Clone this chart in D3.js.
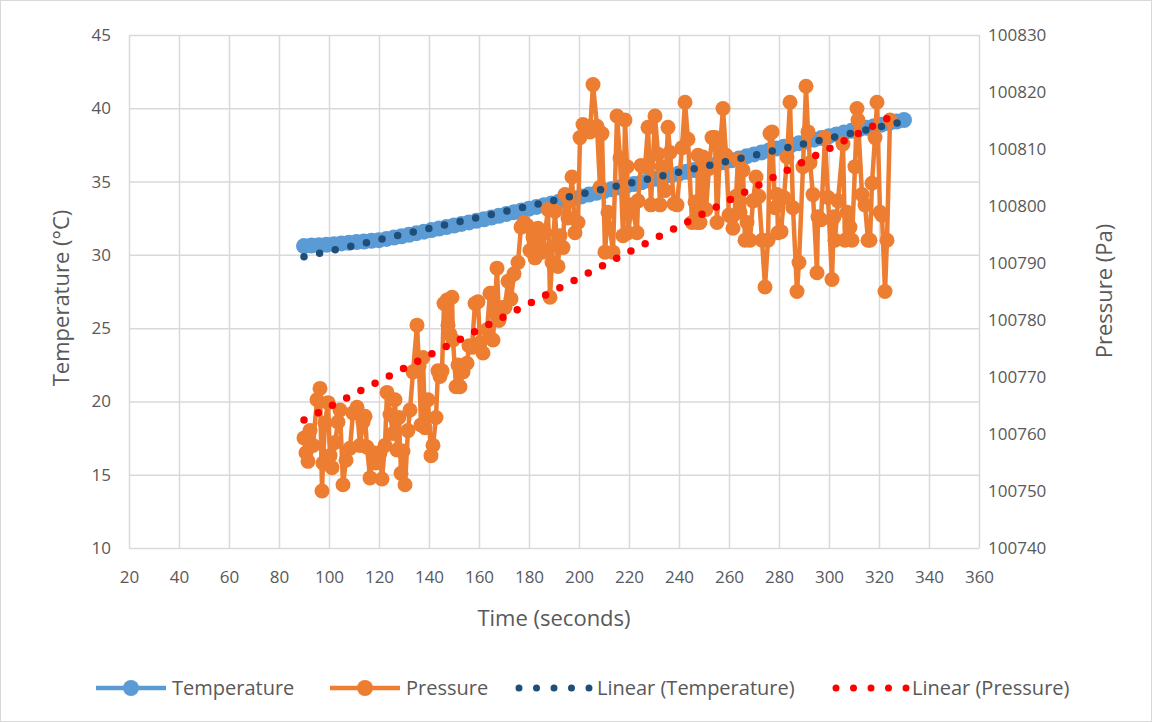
<!DOCTYPE html>
<html>
<head>
<meta charset="utf-8">
<script src="https://cdn.jsdelivr.net/npm/d3@7"></script>
<style>
  body { margin: 0; background: #fff; }
  text { font-family: "Open Sans", sans-serif; fill: #595959; }
</style>
</head>
<body>
<div id="vis"></div>
<script>
// data
var xTicks = [20, 40, 60, 80, 100, 120, 140, 160, 180, 200, 220, 240, 260, 280, 300, 320, 340, 360];
var tempTicks = [10, 15, 20, 25, 30, 35, 40, 45];
var presTicks = [100740, 100750, 100760, 100770, 100780, 100790, 100800, 100810, 100820, 100830];

var tempTime = [90, 93, 96, 99, 102, 105, 108, 111, 114, 117, 120, 123, 126, 129, 132, 135, 138, 141, 144, 147,
  150, 153, 156, 159, 162, 165, 168, 171, 174, 177, 180, 183, 186, 189, 192, 195, 198, 201, 204, 207,
  210, 213, 216, 219, 222, 225, 228, 231, 234, 237, 240, 243, 246, 249, 252, 255, 258, 261, 264, 267,
  270, 273, 276, 279, 282, 285, 288, 291, 294, 297, 300, 303, 306, 309, 312, 315, 318, 321, 324, 327, 330];
var tempValues = [30.60, 30.63, 30.66, 30.69, 30.73, 30.78, 30.82, 30.87, 30.91, 30.96, 31.00, 31.09, 31.18, 31.27, 31.37, 31.48, 31.58, 31.69, 31.79, 31.90,
  32.00, 32.11, 32.21, 32.32, 32.43, 32.55, 32.67, 32.79, 32.91, 33.03, 33.15, 33.27, 33.39, 33.51, 33.63, 33.75, 33.87, 33.99, 34.11, 34.23,
  34.35, 34.47, 34.59, 34.71, 34.83, 34.95, 35.07, 35.19, 35.31, 35.43, 35.55, 35.67, 35.79, 35.91, 36.04, 36.18, 36.31, 36.45, 36.58, 36.72,
  36.85, 36.99, 37.12, 37.26, 37.38, 37.50, 37.62, 37.74, 37.86, 37.98, 38.10, 38.22, 38.34, 38.46, 38.57, 38.67, 38.78, 38.88, 38.99, 39.10, 39.20];

var presTime = [90.0, 90.8, 91.6, 92.4, 93.6, 95.2, 96.4, 97.2, 97.6, 98.4,
  99.6, 100.4, 101.2, 102.4, 103.6, 104.4, 105.6, 106.8, 108.4, 109.6,
  111.2, 112.4, 113.6, 114.4, 115.2, 116.4, 117.6, 118.8, 120.4, 121.2,
  122.4, 123.2, 124.4, 125.6, 126.4, 127.2, 128.0, 128.8, 129.6, 130.4,
  131.6, 132.4, 133.6, 135.2, 136.0, 136.8, 137.6, 138.4, 139.6, 140.8,
  141.6, 142.8, 143.6, 144.4, 145.2, 146.0, 147.2, 147.6, 148.4, 149.2,
  149.6, 150.8, 151.6, 152.4, 153.6, 155.2, 156.0, 157.2, 158.4, 159.6,
  160.4, 161.6, 163.2, 164.4, 165.2, 165.6, 167.2, 168.0, 169.2, 170.4,
  171.6, 172.8, 174.0, 175.6, 176.8, 178.0, 179.2, 180.4, 181.6, 182.4,
  183.6, 184.4, 185.2, 186.4, 187.6, 188.4, 189.2, 190.4, 191.6, 192.4,
  193.6, 194.4, 195.6, 197.2, 198.4, 199.6, 200.4, 201.6, 202.8, 204.4,
  205.6, 207.2, 208.4, 209.2, 210.4, 211.6, 213.6, 215.2, 216.4, 217.6,
  218.4, 219.2, 219.6, 221.2, 223.2, 223.6, 224.8, 226.4, 227.6, 228.8,
  230.4, 231.6, 232.4, 233.2, 234.4, 235.6, 236.4, 238.0, 239.2, 241.2,
  242.4, 243.6, 245.2, 246.4, 247.2, 247.6, 248.4, 249.6, 250.8, 252.0,
  253.2, 254.4, 255.2, 256.4, 257.6, 258.8, 260.0, 261.2, 261.6, 262.8,
  263.6, 264.4, 265.6, 266.4, 267.2, 268.4, 269.6, 270.8, 272.0, 273.2,
  274.4, 275.6, 276.4, 277.2, 278.4, 279.2, 279.6, 280.8, 282.0, 283.2,
  284.4, 285.6, 287.2, 288.0, 289.6, 290.8, 291.6, 292.4, 293.6, 295.2,
  295.6, 296.8, 298.4, 299.6, 301.2, 302.0, 302.4, 303.6, 305.6, 306.4,
  307.2, 308.4, 309.2, 310.4, 311.2, 311.6, 313.2, 314.4, 315.6, 316.4,
  317.2, 318.4, 319.2, 320.4, 321.2, 322.4, 323.2, 324.4];
var presValues = [100759.3, 100756.7, 100755.2, 100760.6, 100758.0, 100766.0, 100768.0, 100750.0, 100754.9, 100761.9,
  100765.5, 100756.2, 100754.1, 100758.5, 100762.1, 100764.2, 100751.1, 100755.4, 100757.5, 100763.7,
  100764.7, 100758.0, 100762.1, 100763.1, 100757.7, 100752.3, 100756.7, 100754.9, 100756.7, 100752.1,
  100758.0, 100767.3, 100763.4, 100760.1, 100766.0, 100757.2, 100762.9, 100753.1, 100757.0, 100751.1,
  100760.6, 100764.2, 100770.9, 100779.1, 100771.9, 100761.6, 100773.4, 100761.1, 100766.0, 100756.2,
  100758.0, 100762.9, 100771.1, 100770.1, 100771.1, 100782.9, 100783.5, 100779.1, 100777.5, 100784.0,
  100776.5, 100768.3, 100772.1, 100768.3, 100770.9, 100772.4, 100775.5, 100775.2, 100782.9, 100783.2,
  100776.0, 100774.2, 100778.3, 100784.7, 100784.7, 100776.5, 100789.1, 100779.9, 100782.2, 100782.2,
  100786.8, 100783.7, 100788.1, 100790.1, 100796.3, 100797.1, 100796.6, 100792.2, 100794.5, 100790.9,
  100796.1, 100793.0, 100791.9, 100795.3, 100799.4, 100784.0, 100790.1, 100799.1, 100789.4, 100794.8,
  100792.7, 100802.0, 100797.9, 100805.1, 100795.3, 100797.1, 100812.0, 100814.3, 100814.0, 100813.0,
  100821.3, 100814.0, 100803.3, 100812.7, 100791.9, 100798.9, 100791.9, 100815.8, 100808.4, 100794.8,
  100815.1, 100806.9, 100795.3, 100800.2, 100795.3, 100800.9, 100807.1, 100806.9, 100813.8, 100800.2,
  100815.8, 100809.1, 100800.2, 100806.9, 100802.7, 100813.8, 100809.4, 100800.4, 100800.2, 100810.2,
  100818.2, 100811.7, 100797.1, 100800.7, 100797.1, 100808.9, 100797.1, 100808.6, 100799.4, 100806.6,
  100812.0, 100812.0, 100797.1, 100810.4, 100817.1, 100808.9, 100798.4, 100798.1, 100796.1, 100801.7,
  100808.1, 100798.9, 100806.3, 100794.0, 100797.1, 100794.0, 100800.9, 100805.1, 100801.7, 100794.0,
  100785.8, 100794.0, 100812.7, 100813.0, 100799.7, 100802.0, 100795.3, 100795.5, 100801.5, 100808.6,
  100818.2, 100799.7, 100785.0, 100790.1, 100806.9, 100821.0, 100813.0, 100807.6, 100802.0, 100788.3,
  100798.1, 100797.6, 100812.0, 100801.5, 100787.1, 100798.1, 100794.0, 100800.9, 100810.9, 100794.0,
  100798.9, 100796.3, 100794.0, 100806.9, 100817.1, 100815.1, 100802.0, 100800.2, 100794.0, 100794.0,
  100804.0, 100812.0, 100818.2, 100798.9, 100798.4, 100785.0, 100794.0, 100815.1];

var legendNames = ["Temperature", "Pressure", "Linear (Temperature)", "Linear (Pressure)"];

var width = 1152;
var height = 722;
var plotLeft = 129, plotRight = 979, plotTop = 35, plotBottom = 548;

var tempColor = "#5b9bd5";
var presColor = "#ed7d31";
var tempTrendColor = "#1f4e79";
var presTrendColor = "#ff0000";

var svg = d3.select("#vis")
    .append("svg")
    .attr("width", width)
    .attr("height", height);

svg.append("rect")
    .attr("x", 0.5).attr("y", 0.5)
    .attr("width", width - 1).attr("height", height - 1)
    .attr("fill", "#fff")
    .attr("stroke", "#d9d9d9");

var x = d3.scaleLinear().domain([20, 360]).range([plotLeft, plotRight]);
var yT = d3.scaleLinear().domain([10, 45]).range([plotBottom, plotTop]);
var yP = d3.scaleLinear().domain([100740, 100830]).range([plotBottom, plotTop]);

// gridlines
svg.append("g")
    .attr("class", "grid")
    .attr("transform", `translate(0, ${plotBottom})`)
    .call(d3.axisBottom(x).tickValues(xTicks).tickSize(-(plotBottom - plotTop)).tickFormat(""));
svg.append("g")
    .attr("class", "grid")
    .attr("transform", `translate(${plotLeft}, 0)`)
    .call(d3.axisLeft(yT).tickValues(tempTicks).tickSize(-(plotRight - plotLeft)).tickFormat(""));
svg.selectAll(".grid .domain").remove();
svg.selectAll(".grid .tick line").attr("stroke", "#d9d9d9").attr("stroke-width", 1.5);

// tick labels
var xAxis = svg.append("g")
    .attr("transform", `translate(0, ${plotBottom})`)
    .call(d3.axisBottom(x).tickValues(xTicks).tickSize(0).tickPadding(23));
var yAxisL = svg.append("g")
    .attr("transform", `translate(${plotLeft}, 0)`)
    .call(d3.axisLeft(yT).tickValues(tempTicks).tickSize(0).tickPadding(18));
var yAxisR = svg.append("g")
    .attr("transform", `translate(${plotRight}, 0)`)
    .call(d3.axisRight(yP).tickValues(presTicks).tickSize(0).tickPadding(9).tickFormat(d3.format("d")));
[xAxis, yAxisL, yAxisR].forEach(function(g) {
  g.select(".domain").remove();
  g.selectAll("text")
    .style("font-size", "17px")
    .style("font-family", "'Open Sans', sans-serif")
    .attr("fill", "#595959");
});

// axis titles
svg.append("text")
    .attr("x", (plotLeft + plotRight) / 2)
    .attr("y", 626)
    .attr("text-anchor", "middle")
    .style("font-size", "22px")
    .text("Time (seconds)");

svg.append("text")
    .attr("transform", "translate(69, 298) rotate(-90)")
    .attr("text-anchor", "middle")
    .style("font-size", "22px")
    .text("Temperature (°C)");

svg.append("text")
    .attr("transform", "translate(1112, 291) rotate(-90)")
    .attr("text-anchor", "middle")
    .style("font-size", "22px")
    .text("Pressure (Pa)");

// series
var tempData = tempTime.map(function(t, i) { return [t, tempValues[i]]; });
var presData = presTime.map(function(t, i) { return [t, presValues[i]]; });

var tempLine = d3.line().x(d => x(d[0])).y(d => yT(d[1]));
var presLine = d3.line().x(d => x(d[0])).y(d => yP(d[1]));

svg.append("path")
    .datum(tempData)
    .attr("d", tempLine)
    .attr("fill", "none")
    .attr("stroke", tempColor)
    .attr("stroke-width", 4.5);
svg.append("g").selectAll("circle")
    .data(tempData)
    .join("circle")
    .attr("cx", d => x(d[0]))
    .attr("cy", d => yT(d[1]))
    .attr("r", 8)
    .attr("fill", tempColor);

svg.append("path")
    .datum(presData)
    .attr("d", presLine)
    .attr("fill", "none")
    .attr("stroke", presColor)
    .attr("stroke-width", 4.5)
    .attr("stroke-linejoin", "round");
svg.append("g").selectAll("circle")
    .data(presData)
    .join("circle")
    .attr("cx", d => x(d[0]))
    .attr("cy", d => yP(d[1]))
    .attr("r", 7.5)
    .attr("fill", presColor);

// linear trendlines (least squares)
function linFit(xs, ys) {
  var mx = d3.mean(xs), my = d3.mean(ys);
  var sxy = d3.sum(xs, (v, i) => (v - mx) * (ys[i] - my));
  var sxx = d3.sum(xs, v => (v - mx) * (v - mx));
  var b = sxy / sxx;
  return { a: my - b * mx, b: b };
}

function drawTrend(xs, ys, yScale, color) {
  var fit = linFit(xs, ys);
  var ends = d3.extent(xs);
  svg.append("line")
      .attr("x1", x(ends[0]))
      .attr("y1", yScale(fit.a + fit.b * ends[0]))
      .attr("x2", x(ends[1]))
      .attr("y2", yScale(fit.a + fit.b * ends[1]))
      .attr("stroke", color)
      .attr("stroke-width", 7.5)
      .attr("stroke-linecap", "round")
      .attr("stroke-dasharray", "0 16");
}

drawTrend(tempTime, tempValues, yT, tempTrendColor);
drawTrend(presTime, presValues, yP, presTrendColor);

// legend
var ly = 688;
var legend = svg.append("g");

legend.append("line")
    .attr("x1", 96).attr("x2", 166).attr("y1", ly).attr("y2", ly)
    .attr("stroke", tempColor).attr("stroke-width", 4.5);
legend.append("circle").attr("cx", 131).attr("cy", ly).attr("r", 8).attr("fill", tempColor);

legend.append("line")
    .attr("x1", 330).attr("x2", 400).attr("y1", ly).attr("y2", ly)
    .attr("stroke", presColor).attr("stroke-width", 4.5);
legend.append("circle").attr("cx", 365).attr("cy", ly).attr("r", 8).attr("fill", presColor);

legend.append("line")
    .attr("x1", 519).attr("x2", 590).attr("y1", ly).attr("y2", ly)
    .attr("stroke", tempTrendColor).attr("stroke-width", 7)
    .attr("stroke-linecap", "round").attr("stroke-dasharray", "0 17.5");

legend.append("line")
    .attr("x1", 836).attr("x2", 907).attr("y1", ly).attr("y2", ly)
    .attr("stroke", presTrendColor).attr("stroke-width", 7)
    .attr("stroke-linecap", "round").attr("stroke-dasharray", "0 17.5");

var legendX = [172, 406, 597, 912];
legend.selectAll("text.lg")
    .data(legendNames)
    .join("text")
    .attr("class", "lg")
    .attr("x", (d, i) => legendX[i])
    .attr("y", ly)
    .attr("dy", "0.35em")
    .style("font-size", "20px")
    .text(d => d);
</script>
</body>
</html>
